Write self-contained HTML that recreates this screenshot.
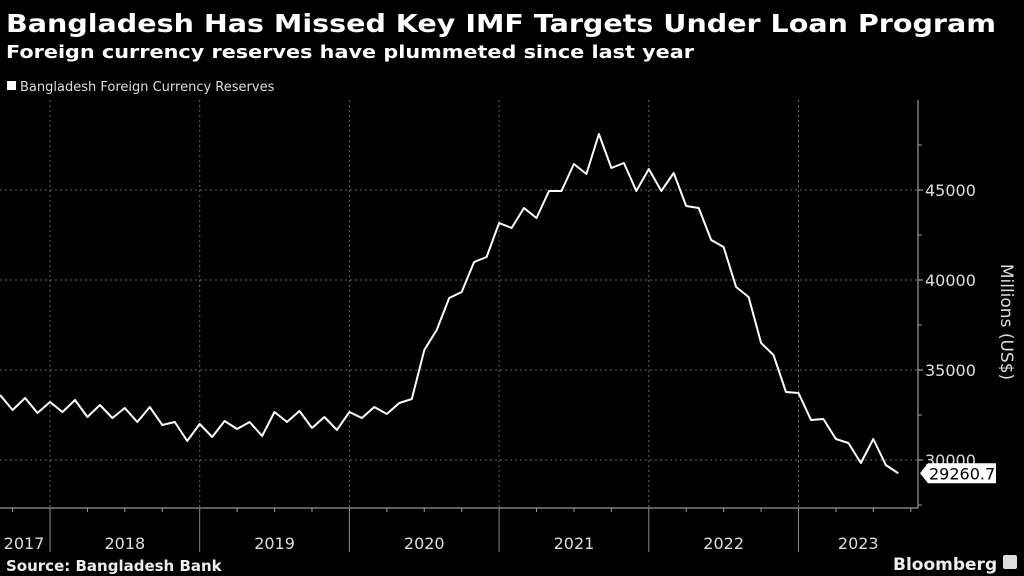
<!DOCTYPE html>
<html><head><meta charset="utf-8"><style>
html,body{margin:0;padding:0;background:#000;}
svg{display:block;font-family:"DejaVu Sans","Liberation Sans",sans-serif;}
</style></head><body>
<svg id="chart" width="1024" height="576" viewBox="0 0 1024 576">
<rect width="1024" height="576" fill="#000"/>
<text x="6" y="32" font-size="25" font-weight="bold" fill="#fff" textLength="990" lengthAdjust="spacingAndGlyphs">Bangladesh Has Missed Key IMF Targets Under Loan Program</text>
<text x="6" y="58" font-size="18" font-weight="bold" fill="#fff" textLength="688" lengthAdjust="spacingAndGlyphs">Foreign currency reserves have plummeted since last year</text>
<rect x="7" y="81" width="9" height="9" fill="#fff"/>
<text x="20" y="91" font-size="13" fill="#ddd">Bangladesh Foreign Currency Reserves</text>
<g id="grid"></g>
<g id="axes"></g>
<polyline id="line" fill="none" stroke="#fff" stroke-width="2" stroke-linejoin="round"/>
<g id="lastlabel"></g>
<text transform="translate(1001,322) rotate(90)" text-anchor="middle" font-size="17" fill="#ddd">Millions (US$)</text>
<text x="6" y="571" font-size="15" font-weight="bold" fill="#eee">Source: Bangladesh Bank</text>
<text x="893" y="570" font-size="17" font-weight="bold" fill="#eee">Bloomberg</text>
<rect x="1003" y="555" width="14" height="14" rx="2" fill="#ddd"/>
</svg>
<script>
const values = [33611,32778,33444,32611,33222,32667,33333,32389,33056,32333,32889,32111,32944,31944,32111,31056,32000,31278,32167,31722,32111,31333,32667,32111,32722,31778,32389,31667,32667,32333,32944,32556,33167,33389,
36111,37222,39000,39333,41000,41278,43167,42889,44000,43444,44944,44944,46444,45889,48111,46222,46500,44944,46167,44944,45944,44111,44000,42222,41833,39611,39056,36500,35833,
33778,33722,32222,32278,31167,30944,29833,31167,29722,29260.7];
const startYear = 2017, startMonth = 8; // September 2017 (0-based)
const yearLabels = ["2017","2018","2019","2020","2021","2022","2023"];
const yTicks = [30000,35000,40000,45000];
const lastLabel = "29260.7";

const NS = "http://www.w3.org/2000/svg";
const X0 = 50, YEARW = 149.7, AX = 918, AXB = 508;
function xOfMonth(m){ return X0 + (m - 12*(2018-startYear)) * YEARW/12; } // m = months since Jan startYear
function xi(i){ return xOfMonth(startMonth + i); }
function y(v){ return 460 - (v - 30000) * 0.018; }
function mk(tag, attrs, parent){ const e=document.createElementNS(NS,tag); for(const k in attrs) e.setAttribute(k,attrs[k]); parent.appendChild(e); return e; }
const grid=document.getElementById('grid'), axes=document.getElementById('axes');

yTicks.forEach(t=>{
  const l=mk('line',{x1:0,x2:AX,y1:y(t),y2:y(t),stroke:'#666','stroke-dasharray':'2,3','stroke-width':1},grid);
  
  
  const tk=mk('line',{x1:AX,x2:AX+5,y1:y(t),y2:y(t),stroke:'#bbb'},axes);
  
  
  const tx=mk('text',{x:AX+7,y:y(t)+6,'font-size':16,fill:'#ddd'},axes);
  tx.textContent=t;
  
  
});
[27500,32500,37500,42500,47500].forEach(t=>{
  const tk=mk('line',{x1:AX,x2:AX+4,y1:y(t),y2:y(t),stroke:'#999'},axes);
  
  
});
const ya=mk('line',{x1:AX,x2:AX,y1:100,y2:AXB,stroke:'#bbb'},axes);


const xa=mk('line',{x1:0,x2:AX,y1:AXB,y2:AXB,stroke:'#bbb'},axes);



yearLabels.forEach((lab,k)=>{
  const yr=startYear+k;
  const xs=xOfMonth(12*(yr-startYear)), xe=xOfMonth(12*(yr-startYear+1));
  if(k>0){
    const g=mk('line',{x1:xs,x2:xs,y1:100,y2:AXB,stroke:'#666','stroke-dasharray':'2,3'},grid);
    
    
    const t=mk('line',{x1:xs,x2:xs,y1:AXB,y2:552,stroke:'#888'},axes);
    
    
  }
  for(let q=1;q<4;q++){
    const qx=xs+q*YEARW/4;
    if(qx>0 && qx<AX){
      const t=mk('line',{x1:qx,x2:qx,y1:AXB,y2:AXB+4,stroke:'#999'},axes);
      
      
    }
  }
  let cx=(Math.max(xs,0)+Math.min(xe,AX))/2;
  if(k===0) cx=Math.max(xs,0)+24;
  const tx=mk('text',{x:cx,y:549,'font-size':16,fill:'#ddd','text-anchor':'middle'},axes);
  tx.textContent=lab;
  
  
});

document.getElementById('line').setAttribute('points', values.map((v,i)=>xi(i).toFixed(1)+','+y(v).toFixed(1)).join(' '));

const ll=document.getElementById('lastlabel');
const ly=y(values[values.length-1]);
const bx=mk('path',{d:`M${AX+2},${ly} L${AX+10},${ly-10} H${AX+44+34} V${ly+10} H${AX+10} Z`,fill:'#fff'},ll);


const lt=mk('text',{x:AX+11,y:ly+6,'font-size':16,fill:'#000'},ll);
lt.textContent=lastLabel;


</script>
</body></html>
